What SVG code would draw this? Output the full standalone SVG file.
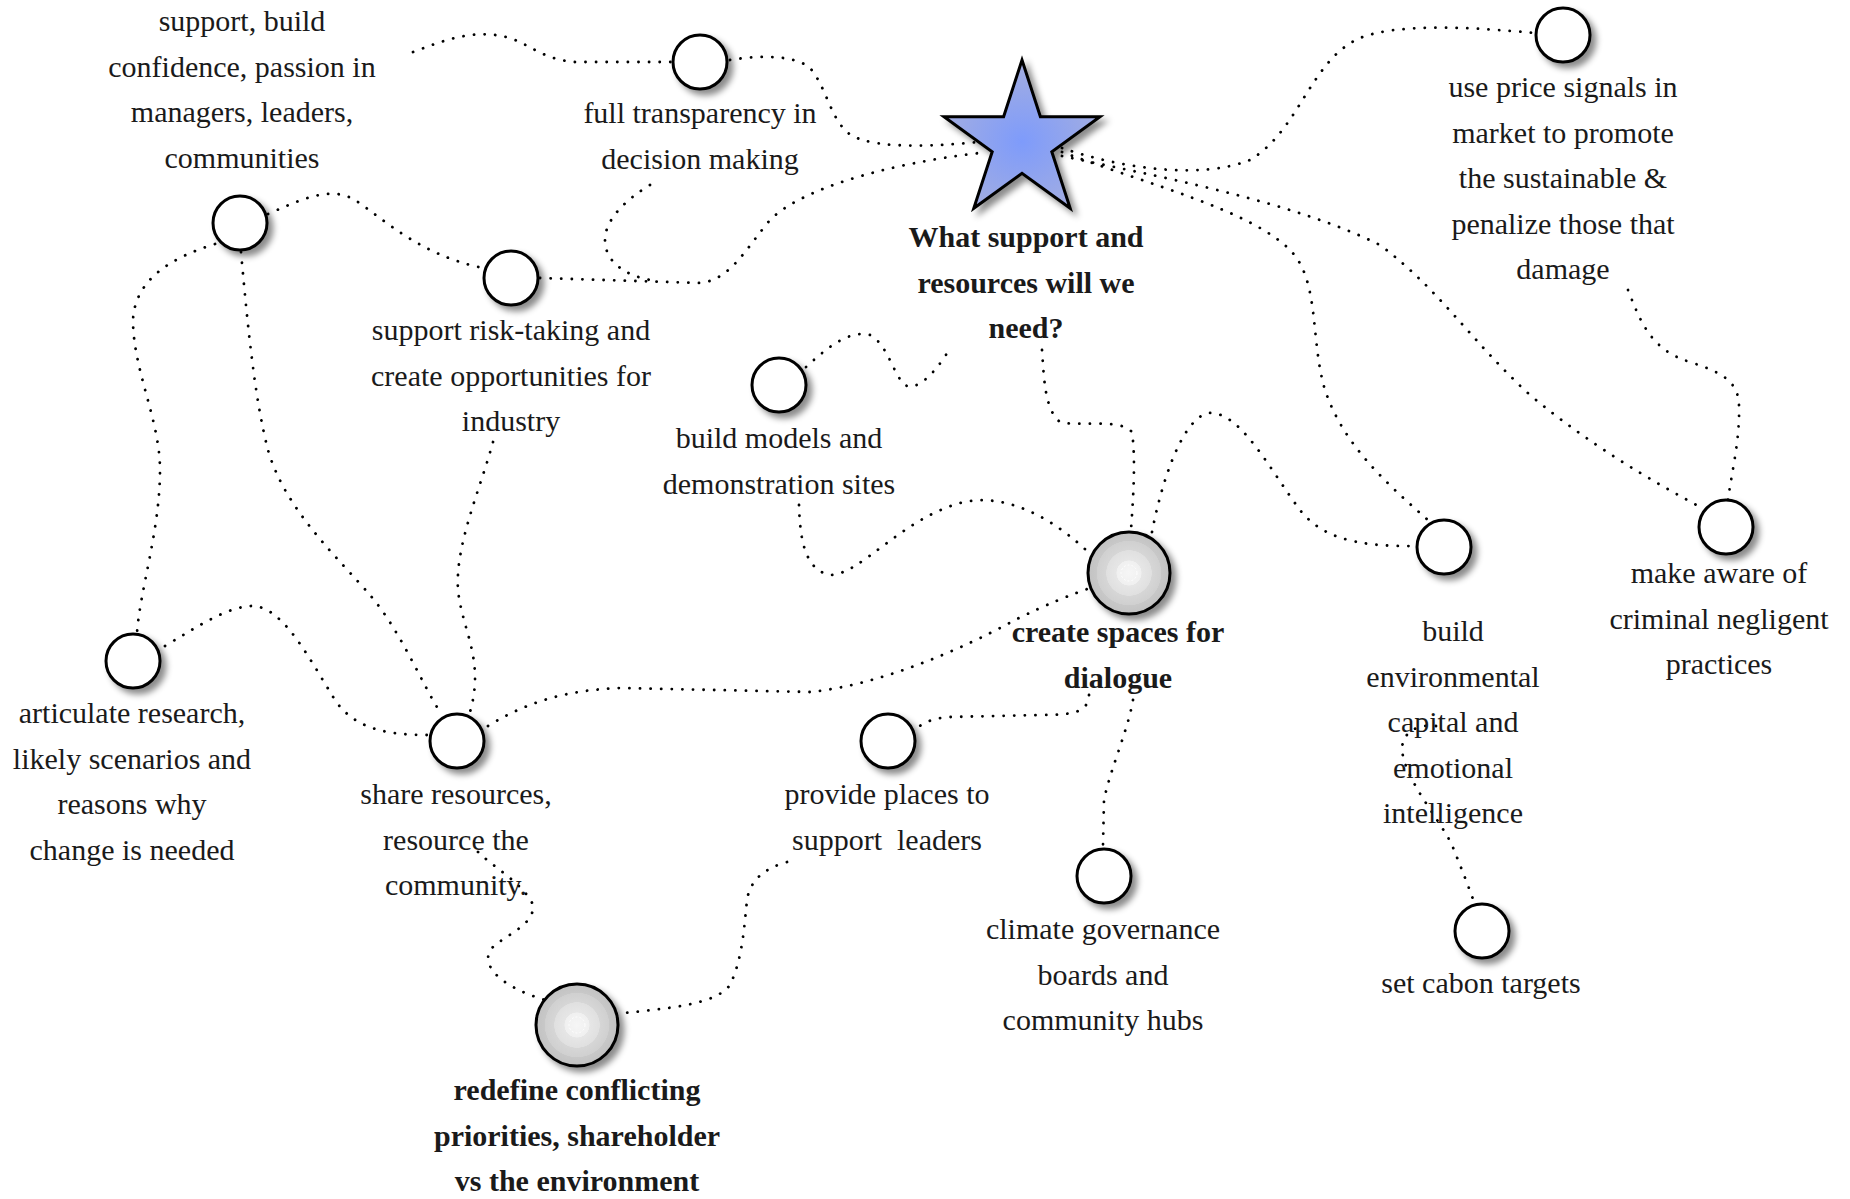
<svg xmlns="http://www.w3.org/2000/svg" width="1850" height="1199" viewBox="0 0 1850 1199">
<defs>
  <filter id="shadow" x="-30%" y="-30%" width="170%" height="170%">
    <feDropShadow dx="5" dy="5" stdDeviation="3" flood-color="#000" flood-opacity="0.45"/>
  </filter>
  <radialGradient id="grayFill" cx="50%" cy="50%" r="50%">
    <stop offset="0%" stop-color="#f6f6f6"/>
    <stop offset="30%" stop-color="#f0f0f0"/>
    <stop offset="31%" stop-color="#e6e6e6"/>
    <stop offset="55%" stop-color="#e0e0e0"/>
    <stop offset="56%" stop-color="#d6d6d6"/>
    <stop offset="78%" stop-color="#d0d0d0"/>
    <stop offset="79%" stop-color="#c8c8c8"/>
    <stop offset="100%" stop-color="#c2c2c2"/>
  </radialGradient>
  <radialGradient id="starFill" cx="50%" cy="55%" r="55%">
    <stop offset="0%" stop-color="#7e9bfb"/>
    <stop offset="100%" stop-color="#a4aee0"/>
  </radialGradient>
  <style>
    .conn { fill: none; stroke: #000; stroke-width: 2.8; stroke-linecap: round; stroke-dasharray: 0.1 10.5; }
    .wnode { fill: #fff; stroke: #000; stroke-width: 3; filter: url(#shadow); }
    .gnode { fill: url(#grayFill); stroke: #000; stroke-width: 3; filter: url(#shadow); }
    .core { fill: none; stroke: #fff; stroke-width: 1; stroke-dasharray: 2 2; }
    .lbl { font-family: "Liberation Serif", "Times New Roman", serif; font-size: 30px; fill: #1a1a1a; text-anchor: middle; }
    .bold { font-weight: bold; }
  </style>
</defs>
<rect width="1850" height="1199" fill="#fff"/>

<g id="connectors">
  <path class="conn" d="M 413 52 C 445 40, 475 28, 510 38 C 530 45, 545 60, 575 62 L 672 62"/>
  <path class="conn" d="M 730 60 C 760 55, 795 55, 810 68 C 825 85, 830 115, 845 130 C 860 148, 920 148, 977 142"/>
  <path class="conn" d="M 540 278 L 700 283 C 730 280, 745 250, 770 220 C 800 190, 880 165, 979 153"/>
  <path class="conn" d="M 650 185 C 625 200, 605 220, 605 240 C 605 262, 625 275, 650 280"/>
  <path class="conn" d="M 268 214 C 300 200, 330 185, 355 200 C 385 220, 420 255, 483 268"/>
  <path class="conn" d="M 215 244 C 170 258, 135 280, 133 320 C 133 370, 160 420, 160 470 C 160 530, 140 590, 137 633"/>
  <path class="conn" d="M 241 252 C 248 330, 255 400, 268 450 C 285 510, 340 560, 370 595 C 400 630, 420 680, 440 712"/>
  <path class="conn" d="M 493 442 C 480 490, 455 545, 458 590 C 462 630, 485 660, 470 712"/>
  <path class="conn" d="M 165 646 C 200 625, 230 605, 255 606 C 285 610, 310 660, 335 700 C 355 730, 390 735, 428 735"/>
  <path class="conn" d="M 488 726 C 530 700, 570 690, 620 688 L 810 692 C 880 685, 960 650, 1015 620 C 1045 605, 1070 595, 1090 588"/>
  <path class="conn" d="M 799 505 C 800 540, 805 570, 830 575 C 860 575, 900 520, 960 503 C 1010 490, 1060 525, 1088 552"/>
  <path class="conn" d="M 1042 350 C 1044 380, 1045 410, 1060 422 C 1080 427, 1120 418, 1132 432 C 1136 460, 1133 500, 1131 530"/>
  <path class="conn" d="M 1152 532 C 1160 490, 1180 420, 1208 413 C 1240 410, 1270 470, 1300 510 C 1320 535, 1350 547, 1415 546"/>
  <path class="conn" d="M 1062 148 C 1120 168, 1200 180, 1250 160 C 1300 130, 1310 60, 1360 38 C 1400 22, 1480 28, 1535 33"/>
  <path class="conn" d="M 1062 152 C 1150 185, 1250 210, 1290 250 C 1320 280, 1310 340, 1325 390 C 1345 450, 1395 490, 1430 522"/>
  <path class="conn" d="M 1062 156 C 1150 175, 1290 200, 1380 245 C 1440 290, 1470 340, 1530 395 C 1590 445, 1650 480, 1702 508"/>
  <path class="conn" d="M 1628 290 C 1640 320, 1650 350, 1690 362 C 1720 372, 1738 380, 1739 405 C 1740 440, 1732 470, 1728 500"/>
  <path class="conn" d="M 806 367 C 830 345, 850 330, 870 335 C 890 345, 895 385, 910 387 C 925 385, 940 365, 949 350"/>
  <path class="conn" d="M 1089 695 C 1088 712, 1075 715, 1040 715 L 950 717 C 930 718, 920 725, 915 730"/>
  <path class="conn" d="M 1133 700 C 1128 730, 1110 770, 1104 800 L 1103 845"/>
  <path class="conn" d="M 787 862 C 765 868, 750 880, 747 900 C 744 930, 742 960, 730 985 C 715 1005, 670 1008, 615 1014"/>
  <path class="conn" d="M 478 852 C 492 866, 525 885, 533 905 C 535 925, 505 935, 492 948 C 480 962, 495 985, 545 1000"/>
  <path class="conn" d="M 1436 726 C 1420 724, 1402 730, 1402 750 C 1405 780, 1440 820, 1452 845 C 1462 870, 1470 890, 1475 905"/>
</g>

<g id="node-star">
  <polygon points="1022,60 1040.4,116.7 1100,116.7 1051.8,151.7 1070.2,208.3 1022,173.3 973.8,208.3 992.2,151.7 944,116.7 1003.6,116.7" fill="url(#starFill)" stroke="#000" stroke-width="3" stroke-linejoin="miter" filter="url(#shadow)"/>
  <text class="lbl bold" x="1026" y="247">What support and<tspan x="1026" dy="45.5">resources will we</tspan><tspan x="1026" dy="45.5">need?</tspan></text>
</g>

<g id="node-full-transparency">
  <circle class="wnode" cx="700" cy="62" r="27"/>
  <text class="lbl" x="700" y="123">full transparency in<tspan x="700" dy="45.5">decision making</tspan></text>
</g>

<g id="node-support-build">
  <circle class="wnode" cx="240" cy="223" r="27"/>
  <text class="lbl" x="242" y="31">support, build<tspan x="242" dy="45.5">confidence, passion in</tspan><tspan x="242" dy="45.5">managers, leaders,</tspan><tspan x="242" dy="45.5">communities</tspan></text>
</g>

<g id="node-risk-taking">
  <circle class="wnode" cx="511" cy="278" r="27"/>
  <text class="lbl" x="511" y="340">support risk-taking and<tspan x="511" dy="45.5">create opportunities for</tspan><tspan x="511" dy="45.5">industry</tspan></text>
</g>

<g id="node-build-models">
  <circle class="wnode" cx="779" cy="385" r="27"/>
  <text class="lbl" x="779" y="448">build models and<tspan x="779" dy="45.5">demonstration sites</tspan></text>
</g>

<g id="node-price-signals">
  <circle class="wnode" cx="1563" cy="35" r="27"/>
  <text class="lbl" x="1563" y="97">use price signals in<tspan x="1563" dy="45.5">market to promote</tspan><tspan x="1563" dy="45.5">the sustainable &amp;</tspan><tspan x="1563" dy="45.5">penalize those that</tspan><tspan x="1563" dy="45.5">damage</tspan></text>
</g>

<g id="node-create-spaces">
  <circle class="gnode" cx="1129" cy="573" r="41"/>
  <circle class="core" cx="1129" cy="573" r="8"/>
  <text class="lbl bold" x="1118" y="642">create spaces for<tspan x="1118" dy="45.5">dialogue</tspan></text>
</g>

<g id="node-environmental-capital">
  <circle class="wnode" cx="1444" cy="547" r="27"/>
  <text class="lbl" x="1453" y="641">build<tspan x="1453" dy="45.5">environmental</tspan><tspan x="1453" dy="45.5">capital and</tspan><tspan x="1453" dy="45.5">emotional</tspan><tspan x="1453" dy="45.5">intelligence</tspan></text>
</g>

<g id="node-make-aware">
  <circle class="wnode" cx="1726" cy="527" r="27"/>
  <text class="lbl" x="1719" y="583">make aware of<tspan x="1719" dy="45.5">criminal negligent</tspan><tspan x="1719" dy="45.5">practices</tspan></text>
</g>

<g id="node-articulate-research">
  <circle class="wnode" cx="133" cy="661" r="27"/>
  <text class="lbl" x="132" y="723">articulate research,<tspan x="132" dy="45.5">likely scenarios and</tspan><tspan x="132" dy="45.5">reasons why</tspan><tspan x="132" dy="45.5">change is needed</tspan></text>
</g>

<g id="node-share-resources">
  <circle class="wnode" cx="457" cy="741" r="27"/>
  <text class="lbl" x="456" y="804">share resources,<tspan x="456" dy="45.5">resource the</tspan><tspan x="456" dy="45.5">community.</tspan></text>
</g>

<g id="node-provide-places">
  <circle class="wnode" cx="888" cy="741" r="27"/>
  <text class="lbl" x="887" y="804" style="white-space:pre">provide places to<tspan x="887" dy="45.5">support  leaders</tspan></text>
</g>

<g id="node-climate-governance">
  <circle class="wnode" cx="1104" cy="876" r="27"/>
  <text class="lbl" x="1103" y="939">climate governance<tspan x="1103" dy="45.5">boards and</tspan><tspan x="1103" dy="45.5">community hubs</tspan></text>
</g>

<g id="node-carbon-targets">
  <circle class="wnode" cx="1482" cy="931" r="27"/>
  <text class="lbl" x="1481" y="993">set cabon targets</text>
</g>

<g id="node-redefine">
  <circle class="gnode" cx="577" cy="1025" r="41"/>
  <circle class="core" cx="577" cy="1025" r="8"/>
  <text class="lbl bold" x="577" y="1100">redefine conflicting<tspan x="577" dy="45.5">priorities, shareholder</tspan><tspan x="577" dy="45.5">vs the environment</tspan></text>
</g>
</svg>
